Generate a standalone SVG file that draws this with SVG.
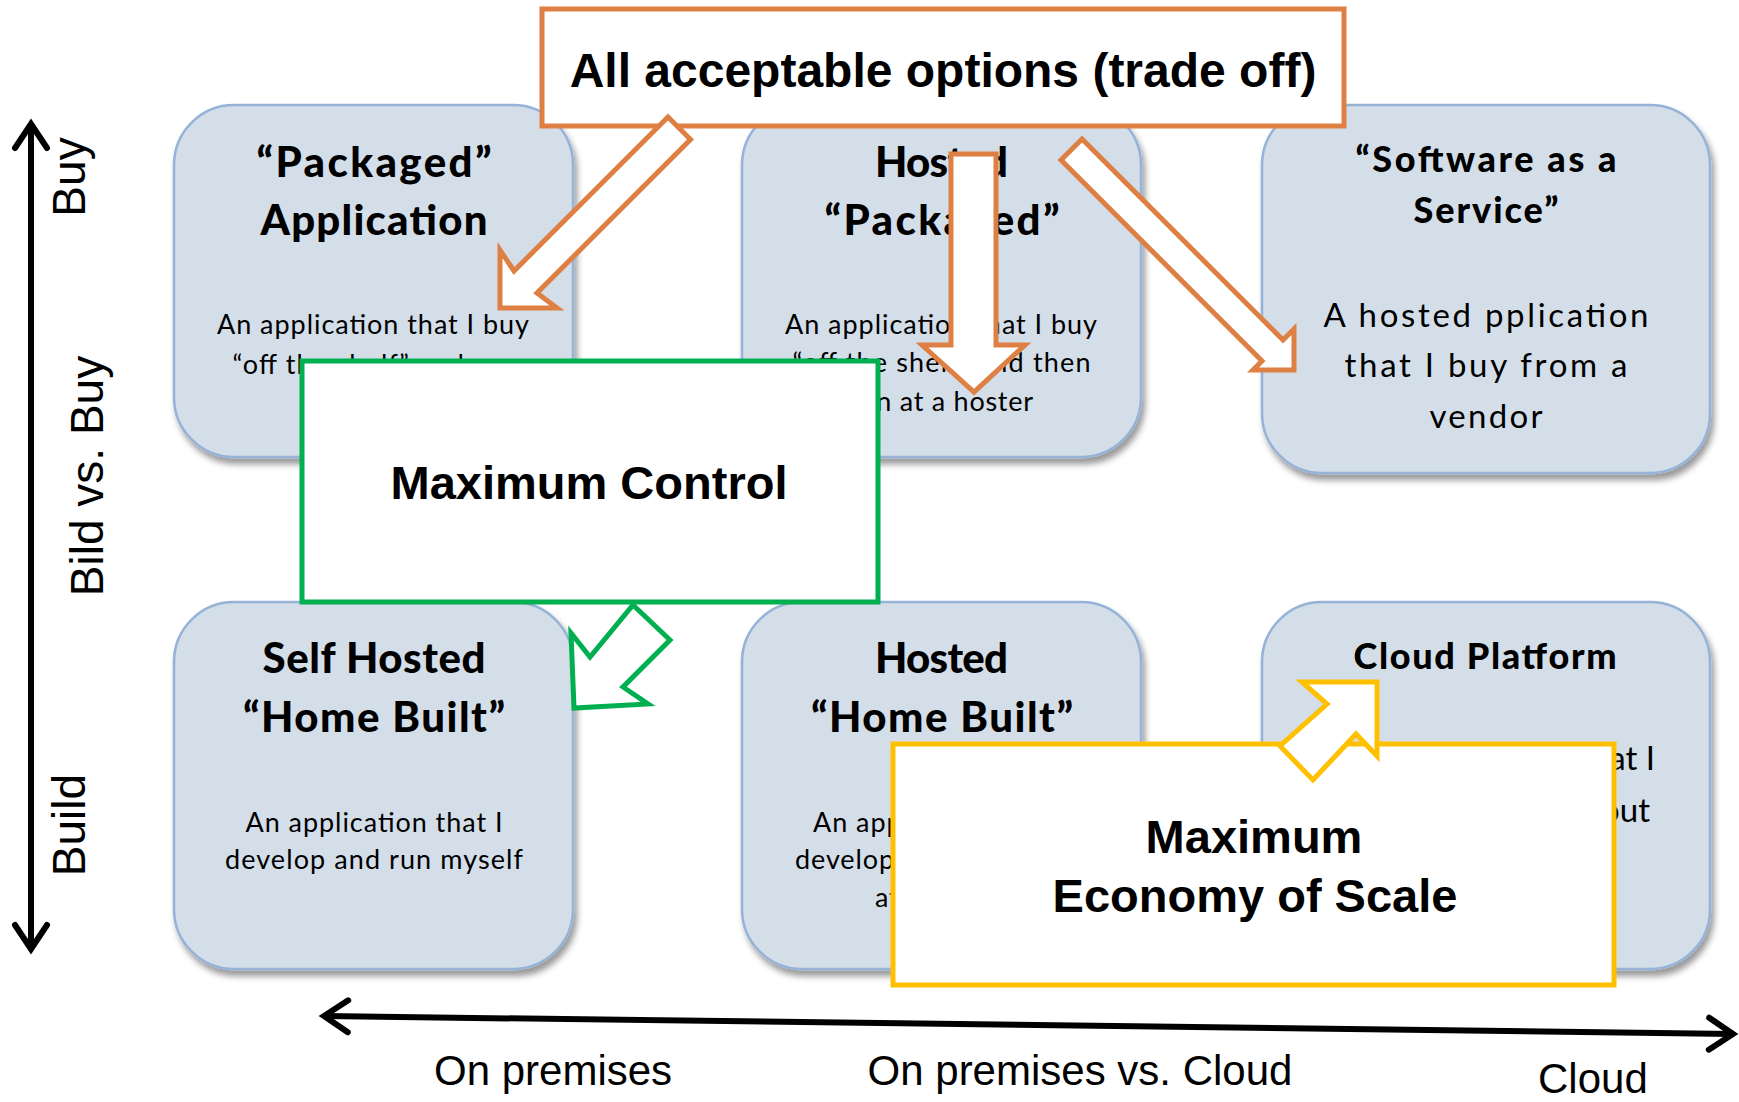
<svg xmlns="http://www.w3.org/2000/svg" width="1739" height="1102" viewBox="0 0 1739 1102">
<defs>
  <filter id="sh" x="-10%" y="-10%" width="125%" height="125%">
    <feDropShadow dx="3" dy="6" stdDeviation="3" flood-color="#000" flood-opacity="0.4"/>
  </filter>
  <marker id="chev" viewBox="0 0 30 40" refX="27" refY="20" markerWidth="30" markerHeight="40" markerUnits="userSpaceOnUse" orient="auto-start-reverse" overflow="visible">
    <path d="M3,4 L27,20 L3,36" fill="none" stroke="#000" stroke-width="6" stroke-linecap="round" stroke-linejoin="miter"/>
  </marker>
</defs>
<style>
  .card{fill:#d4dee9;stroke:#95b3d7;stroke-width:2.5;filter:url(#sh)}
  .t{font-family:Lato,"Liberation Sans",sans-serif;font-weight:900;fill:#000;text-anchor:middle}
  .b{font-family:Lato,"Liberation Sans",sans-serif;font-weight:400;fill:#000;text-anchor:middle}
  .t40{font-size:42px}.t34{font-size:36px}.b26{font-size:27px}.b31{font-size:33px}
  .box{fill:#fff;stroke-width:5}
  .big{font-family:"Liberation Sans",Arial,sans-serif;font-weight:700;fill:#000;text-anchor:middle}
  .ax{font-family:"Liberation Sans",Arial,sans-serif;font-size:46px;fill:#000;text-anchor:middle}
  .axh{font-family:"Liberation Sans",Arial,sans-serif;font-size:42px;fill:#000}
  .blk{fill:#fff;stroke-width:5;stroke-linejoin:miter}
  .or{stroke:#de8044}.gr{stroke:#00b050}.ye{stroke:#ffc000}
  .axis{stroke:#000;stroke-width:6;fill:none}
</style>
<rect width="1739" height="1102" fill="#fff"/>

<g id="packaged">
  <rect class="card" x="174" y="105" width="399" height="352" rx="60"/>
  <text class="t t40" x="374" y="177" textLength="235" lengthAdjust="spacing">“Packaged”</text>
  <text class="t t40" x="374" y="235" textLength="227" lengthAdjust="spacing">Application</text>
  <text class="b b26" x="373" y="334" textLength="312" lengthAdjust="spacing">An application that I buy</text>
  <text class="b b26" x="374" y="374" textLength="283" lengthAdjust="spacing">“off the shelf” and run</text>
</g>

<g id="hosted-packaged">
  <rect class="card" x="742" y="105" width="399" height="352" rx="60"/>
  <text class="t t40" x="941.5" y="177" textLength="133" lengthAdjust="spacing">Hosted</text>
  <text class="t t40" x="942" y="235" textLength="235" lengthAdjust="spacing">“Packaged”</text>
  <text class="b b26" x="941" y="334" textLength="312" lengthAdjust="spacing">An application that I buy</text>
  <text class="b b26" x="941.5" y="372" textLength="298" lengthAdjust="spacing">“off the shelf” and then</text>
  <text class="b b26" x="941.5" y="411" textLength="183" lengthAdjust="spacing">run at a hoster</text>
</g>

<g id="saas">
  <rect class="card" x="1262" y="105" width="448" height="368" rx="60"/>
  <text class="t t34" x="1486" y="172" textLength="261" lengthAdjust="spacing">“Software as a</text>
  <text class="t t34" x="1486" y="223" textLength="145" lengthAdjust="spacing">Service”</text>
  <text class="b b31" x="1486" y="327" textLength="325" lengthAdjust="spacing">A hosted pplication</text>
  <text class="b b31" x="1486" y="377" textLength="283" lengthAdjust="spacing">that I buy from a</text>
  <text class="b b31" x="1486" y="428" textLength="113" lengthAdjust="spacing">vendor</text>
</g>

<g id="self-hosted">
  <rect class="card" x="174" y="602" width="399" height="367" rx="60"/>
  <text class="t t40" x="374" y="673" textLength="223" lengthAdjust="spacing">Self Hosted</text>
  <text class="t t40" x="374" y="732" textLength="262" lengthAdjust="spacing">“Home Built”</text>
  <text class="b b26" x="374" y="832" textLength="257" lengthAdjust="spacing">An application that I</text>
  <text class="b b26" x="374" y="869" textLength="298" lengthAdjust="spacing">develop and run myself</text>
</g>

<g id="hosted-home-built">
  <rect class="card" x="742" y="602" width="399" height="367" rx="60"/>
  <text class="t t40" x="941.5" y="673" textLength="133" lengthAdjust="spacing">Hosted</text>
  <text class="t t40" x="942" y="732" textLength="262" lengthAdjust="spacing">“Home Built”</text>
  <text class="b b26" x="941.5" y="832" textLength="257" lengthAdjust="spacing">An application that I</text>
  <text class="b b26" x="942" y="869" textLength="294" lengthAdjust="spacing">develop myself and run</text>
  <text class="b b26" x="941.5" y="907" textLength="133" lengthAdjust="spacing">at a hoster</text>
</g>

<g id="cloud-platform">
  <rect class="card" x="1262" y="602" width="448" height="367" rx="60"/>
  <text class="t t34" x="1485" y="669" textLength="263" lengthAdjust="spacing">Cloud Platform</text>
  <text class="b b31" x="1655" y="770" style="text-anchor:end">A platform that I</text>
  <text class="b b31" x="1650" y="822" style="text-anchor:end">run without</text>
</g>

<g id="maximum-control">
  <rect class="box gr" x="302" y="361" width="576" height="241"/>
  <text class="big" x="589" y="499" font-size="47">Maximum Control</text>
</g>

<g id="maximum-economy">
  <rect class="box ye" x="893" y="744" width="721" height="241"/>
  <text class="big" x="1254" y="853" font-size="47">Maximum</text>
  <text class="big" x="1255" y="912" font-size="47">Economy of Scale</text>
</g>

<g id="all-acceptable">
  <rect class="box or" x="542" y="9" width="802" height="117"/>
  <text class="big" x="943" y="87" font-size="48">All acceptable options (trade off)</text>
</g>

<g id="connectors">
  <polygon class="blk or" points="668,117 690.5,139.5 537,293 557,308 500,308 500,250 514,271"/>
  <polygon class="blk or" points="951,154 996,154 996,345 1025,345 974,392 922,345 951,345"/>
  <polygon class="blk or" points="1082,139 1061,160 1262,361 1253,370 1294,370 1294,329 1283,340"/>
  <polygon class="blk gr" points="633,605 670,640 623,687 648,704 574,708 571,633 590,657"/>
  <polygon class="blk ye" points="1377,682 1377,756 1356,734 1313,780 1280,746 1327,704 1302,682"/>
</g>

<g id="axis-build-buy">
  <line class="axis" x1="31" y1="124" x2="31" y2="949" marker-start="url(#chev)" marker-end="url(#chev)"/>
  <text class="ax" transform="translate(85,177) rotate(-90)">Buy</text>
  <text class="ax" transform="translate(103,476) rotate(-90)">Bild vs. Buy</text>
  <text class="ax" transform="translate(85,825) rotate(-90)">Build</text>
</g>

<g id="axis-premises-cloud">
  <line class="axis" x1="324" y1="1016" x2="1733" y2="1034" marker-start="url(#chev)" marker-end="url(#chev)"/>
  <text class="axh" x="434" y="1085">On premises</text>
  <text class="axh" x="1080" y="1085" text-anchor="middle">On premises vs. Cloud</text>
  <text class="axh" x="1538" y="1093">Cloud</text>
</g>
</svg>
